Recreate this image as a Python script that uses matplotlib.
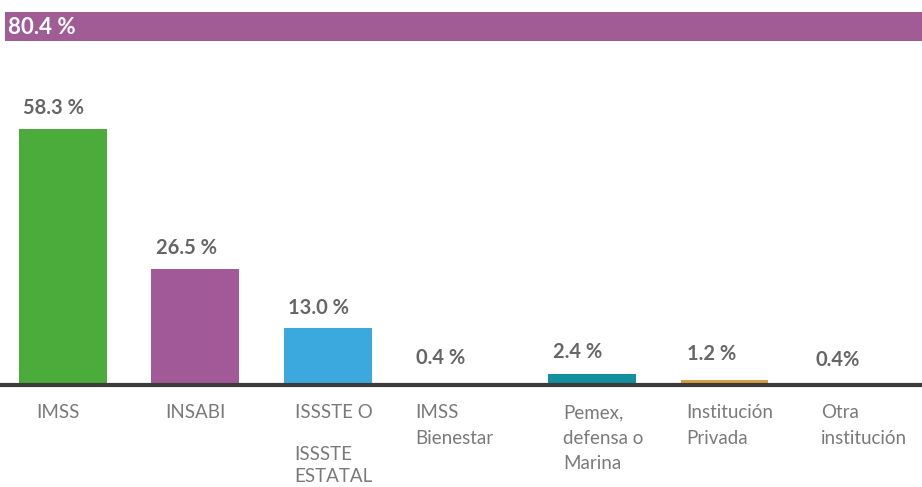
import matplotlib.pyplot as plt

# datos
categorias = ["IMSS", "INSABI", "ISSSTE O", "IMSS\nBienestar", "Pemex,\ndefensa o\nMarina",
              "Institución\nPrivada", "Otra\ninstitución"]
valores = [58.3, 26.5, 13.0, 0.4, 2.4, 1.2, 0.4]
etiquetas = ["58.3 %", "26.5 %", "13.0 %", "0.4 %", "2.4 %", "1.2 %", "0.4%"]
colores = ["#4bab3b", "#a15a97", "#3ba9dd", "#a15a97", "#13909e", "#d4a041", "#a15a97"]
total = 80.4
total_label = "80.4 %"

plt.rcParams['font.family'] = ['Lato', 'DejaVu Sans']

fig = plt.figure(figsize=(9.22, 4.87), dpi=100)

# barra superior
axt = fig.add_axes([5 / 922, 446 / 487, 1.0, 29 / 487])
axt.barh([0], [total], height=1.0, color="#a15c96")
axt.set_xlim(0, total)
axt.set_ylim(-0.5, 0.5)
axt.axis("off")
axt.text(0.3, -0.02, total_label, color="white", fontsize=16, fontweight="bold",
         va="center", ha="left")

# barras principales
ax = fig.add_axes([0, 0, 1, 1])
x = list(range(len(valores)))
ax.bar(x, valores, width=0.665, color=colores, zorder=2)
ax.set_xlim(-63 / 132.3, (922 - 63) / 132.3)
ax.set_ylim(-102 / 4.39, (487 - 102) / 4.39)
ax.axhline(0, color="#3b3b3b", lw=3, zorder=3)
ax.axis("off")

# etiquetas de valor
val_dx = [-0.30, -0.30, -0.30, -0.33, -0.30, -0.28, -0.31]
val_y = [63.1, 31.2, 17.5, 6.2, 7.5, 7.0, 5.7]
for i, (lab, dx, yy) in enumerate(zip(etiquetas, val_dx, val_y)):
    ax.text(i + dx, yy, lab, fontsize=14.5, fontweight="bold", color="#666666",
            ha="left", va="center")

# etiquetas de categoria
cat_dx = [-0.20, -0.23, -0.25, -0.34, -0.22, -0.29, -0.27]
for i, (lab, dx) in enumerate(zip(categorias, cat_dx)):
    ax.text(i + dx, -4.3, lab, fontsize=13.5, color="#7a7a7a",
            ha="left", va="top", linespacing=1.62)
ax.text(2 - 0.25, -13.9, "ISSSTE\nESTATAL", fontsize=13.5,
        color="#7a7a7a", ha="left", va="top", linespacing=1.35)

fig.savefig("out.png", dpi=100)
